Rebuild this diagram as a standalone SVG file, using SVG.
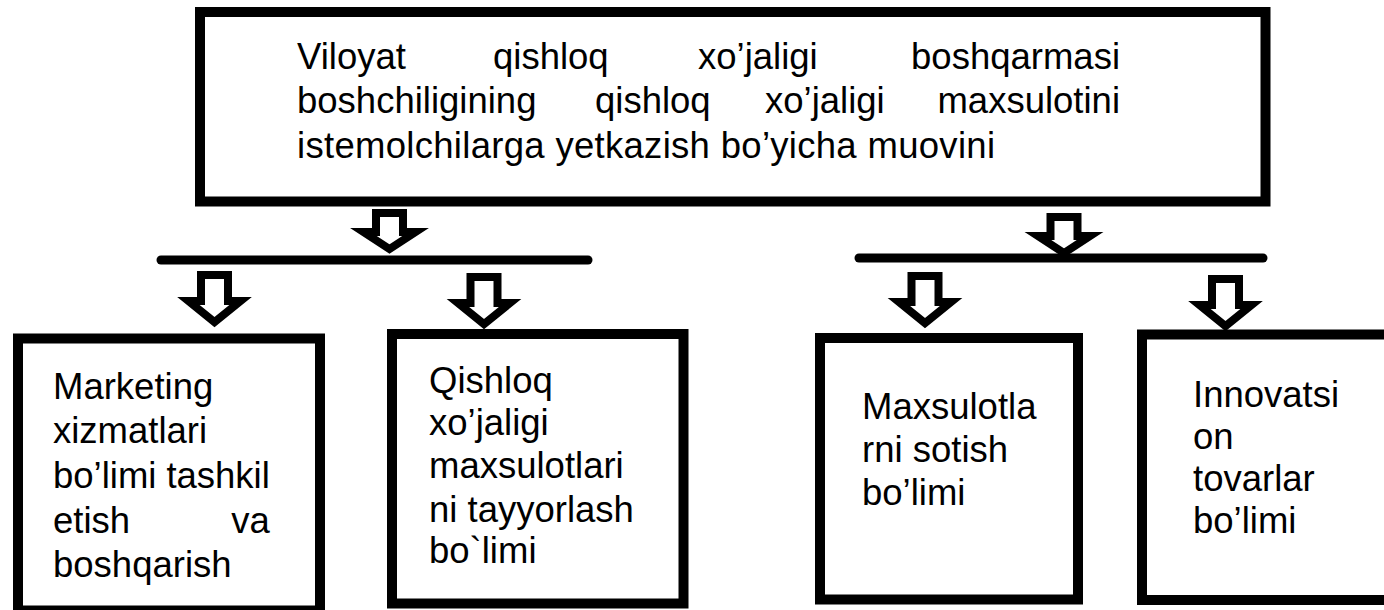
<svg xmlns="http://www.w3.org/2000/svg" xmlns:xlink="http://www.w3.org/1999/xlink" width="1384" height="610" viewBox="0 0 1384 610">
<style>
.box{fill:#ffffff;stroke:#000000;stroke-width:10;}
.arr{fill:#ffffff;stroke:#000000;stroke-width:8;stroke-linejoin:miter;stroke-miterlimit:10;}
.bar{stroke:#000000;stroke-width:9;stroke-linecap:round;fill:none;}
.t{font-family:"Liberation Sans",Arial,sans-serif;font-size:36.5px;fill:#000000;}
</style>
<defs>
<path id="arrowS" d="M -13.5 4 H 13.5 V 23 H 26 L 0 40 L -26 23 H -13.5 Z"/>
<path id="arrowL" d="M -13.5 4 H 13.5 V 30 H 26 L 0 51 L -26 30 H -13.5 Z"/>
</defs>
<rect width="1384" height="610" fill="#ffffff"/>

<g id="top">
<rect class="box" x="200" y="12" width="1065.5" height="189.5"/>
<text class="t">
<tspan x="297" y="69">Viloyat</tspan><tspan x="493" y="69">qishloq</tspan><tspan x="698" y="69">xo’jaligi</tspan><tspan x="1120" y="69" text-anchor="end">boshqarmasi</tspan>
</text>
<text class="t">
<tspan x="297" y="113">boshchiligining</tspan><tspan x="595" y="113">qishloq</tspan><tspan x="765" y="113">xo’jaligi</tspan><tspan x="1120" y="113" text-anchor="end">maxsulotini</tspan>
</text>
<text class="t" x="297" y="158" textLength="698" lengthAdjust="spacing">istemolchilarga yetkazish bo’yicha muovini</text>
</g>

<g id="connectors">
<line class="bar" x1="161" y1="260" x2="588" y2="260"/>
<line class="bar" x1="859" y1="258" x2="1263" y2="258"/>
<use xlink:href="#arrowS" class="arr" transform="translate(389.5,209)"/>
<use xlink:href="#arrowS" class="arr" transform="translate(1064,213)"/>
<use xlink:href="#arrowL" class="arr" transform="translate(214.5,271)"/>
<use xlink:href="#arrowL" class="arr" transform="translate(484,273)"/>
<use xlink:href="#arrowL" class="arr" transform="translate(925,272)"/>
<use xlink:href="#arrowL" class="arr" transform="translate(1225.5,275)"/>
</g>

<g id="marketing">
<rect class="box" x="18" y="338.5" width="302" height="272"/>
<text class="t">
<tspan x="53" y="399">Marketing</tspan>
<tspan x="53" y="443">xizmatlari</tspan>
<tspan x="53" y="488">bo’limi</tspan><tspan x="280" y="488" text-anchor="end">tashkil</tspan>
<tspan x="53" y="533">etish</tspan><tspan x="280" y="533" text-anchor="end">va</tspan>
<tspan x="53" y="577">boshqarish</tspan>
</text>
</g>

<g id="tayyorlash">
<rect class="box" x="392" y="334" width="291.5" height="269.5"/>
<text class="t">
<tspan x="429" y="393">Qishloq</tspan>
<tspan x="429" y="435">xo’jaligi</tspan>
<tspan x="429" y="478">maxsulotlari</tspan>
<tspan x="429" y="522">ni tayyorlash</tspan>
<tspan x="429" y="563">bo`limi</tspan>
</text>
</g>

<g id="sotish">
<rect class="box" x="820" y="338" width="258" height="261.5"/>
<text class="t">
<tspan x="862" y="419">Maxsulotla</tspan>
<tspan x="862" y="462">rni sotish</tspan>
<tspan x="862" y="505">bo’limi</tspan>
</text>
</g>

<g id="innovatsion">
<rect class="box" x="1142" y="334.5" width="260" height="265.5"/>
<text class="t">
<tspan x="1193" y="407">Innovatsi</tspan>
<tspan x="1193" y="449">on</tspan>
<tspan x="1193" y="491">tovarlar</tspan>
<tspan x="1193" y="533">bo’limi</tspan>
</text>
</g>
</svg>
